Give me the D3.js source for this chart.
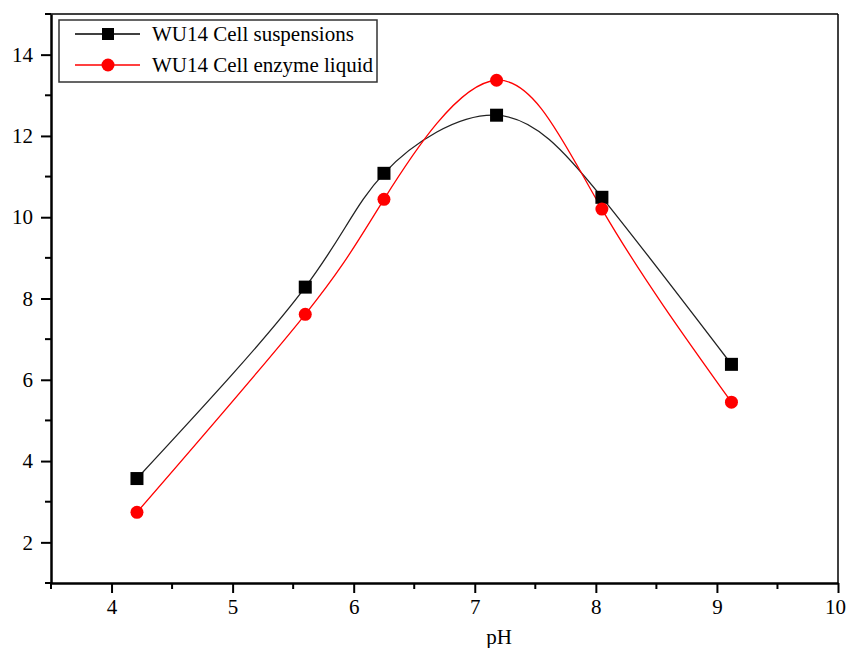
<!DOCTYPE html>
<meta charset="utf-8">
<style>
  body { margin: 0; background: #fff; }
  text { font-family: "Liberation Serif", "Times New Roman", serif; }
</style>
<script src="https://d3js.org/d3.v7.min.js"></script>
<div id="chart"></div>
<script>
// data
var phValues = [4.21, 5.60, 6.25, 7.18, 8.05, 9.12];
var cellSuspensions = [3.57, 8.28, 11.08, 12.51, 10.49, 6.38];
var enzymeLiquid = [2.74, 7.61, 10.44, 13.37, 10.20, 5.45];
var seriesNames = ["WU14 Cell suspensions", "WU14 Cell enzyme liquid"];
var xTicks = [4, 5, 6, 7, 8, 9, 10];
var yTicks = [2, 4, 6, 8, 10, 12, 14];

var W = 847, H = 648;
var margin = {top: 14, right: 9, bottom: 65, left: 51},
    width = W - margin.left - margin.right,
    height = H - margin.top - margin.bottom;

var svg = d3.select("#chart").append("svg")
    .attr("width", W).attr("height", H);
var g = svg.append("g")
    .attr("transform", "translate(" + margin.left + "," + margin.top + ")");

var x = d3.scaleLinear().domain([3.5, 10]).range([0, width]);
var y = d3.scaleLinear().domain([1, 15]).range([height, 0]);

// frame (top + right)
g.append("line").attr("x1", 0).attr("x2", width).attr("y1", 0).attr("y2", 0)
  .attr("stroke", "#000").attr("stroke-width", 1.5);
g.append("line").attr("x1", width).attr("x2", width).attr("y1", 0).attr("y2", height)
  .attr("stroke", "#000").attr("stroke-width", 1.5);

// minor ticks
var xMinor = d3.range(3.5, 10.01, 0.5).filter(function(v) { return xTicks.indexOf(v) < 0; });
var yMinor = d3.range(1, 15.01, 1).filter(function(v) { return yTicks.indexOf(v) < 0; });

var fmt = d3.format("d");
var xAxis = g.append("g").attr("transform", "translate(0," + height + ")")
  .call(d3.axisBottom(x).tickValues(xTicks).tickFormat(fmt).tickSize(10).tickSizeOuter(0).tickPadding(6));
xAxis.append("g").selectAll("line").data(xMinor).enter().append("line")
  .attr("x1", function(d) { return x(d); }).attr("x2", function(d) { return x(d); })
  .attr("y1", 0).attr("y2", 6).attr("stroke", "#000").attr("stroke-width", 2);

var yAxis = g.append("g")
  .call(d3.axisLeft(y).tickValues(yTicks).tickFormat(fmt).tickSize(10).tickSizeOuter(0).tickPadding(8));
yAxis.append("g").selectAll("line").data(yMinor).enter().append("line")
  .attr("y1", function(d) { return y(d); }).attr("y2", function(d) { return y(d); })
  .attr("x1", 0).attr("x2", -6).attr("stroke", "#000").attr("stroke-width", 2);

[xAxis, yAxis].forEach(function(a) {
  a.attr("font-family", "Liberation Serif").attr("font-size", 21);
  a.select(".domain").attr("stroke-width", 2.5);
  a.selectAll(".tick line").attr("stroke-width", 2);
  a.selectAll("text").attr("fill", "#000");
});
xAxis.selectAll(".tick text").filter(function(d) { return d === 10; }).attr("dx", "-3");

g.append("text").attr("x", x(7.2)).attr("y", height + 61)
  .attr("text-anchor", "middle").attr("font-size", 21).text("pH");

// curves
var line = d3.line()
  .x(function(d) { return x(d[0]); })
  .y(function(d) { return y(d[1]); })
  .curve(d3.curveNatural);

var black = phValues.map(function(p, i) { return [p, cellSuspensions[i]]; });
var red = phValues.map(function(p, i) { return [p, enzymeLiquid[i]]; });

g.append("path").datum(black).attr("d", line)
  .attr("fill", "none").attr("stroke", "#222").attr("stroke-width", 1.3);
g.append("path").datum(red).attr("d", line)
  .attr("fill", "none").attr("stroke", "#ff0000").attr("stroke-width", 1.3);

g.selectAll(".sq").data(black).enter().append("rect")
  .attr("x", function(d) { return x(d[0]) - 6.5; })
  .attr("y", function(d) { return y(d[1]) - 6.5; })
  .attr("width", 13).attr("height", 13).attr("fill", "#000");
g.selectAll(".dot").data(red).enter().append("circle")
  .attr("cx", function(d) { return x(d[0]); })
  .attr("cy", function(d) { return y(d[1]); })
  .attr("r", 6.5).attr("fill", "#ff0000");

// legend
var lg = svg.append("g").attr("transform", "translate(59,20)");
lg.append("rect").attr("width", 318).attr("height", 62)
  .attr("fill", "#fff").attr("stroke", "#333").attr("stroke-width", 1.5);
seriesNames.forEach(function(name, i) {
  var cy = 14 + i * 31;
  var col = i === 0 ? "#000" : "#ff0000";
  lg.append("line").attr("x1", 16).attr("x2", 81).attr("y1", cy).attr("y2", cy)
    .attr("stroke", col).attr("stroke-width", 1.3);
  if (i === 0) {
    lg.append("rect").attr("x", 49 - 6).attr("y", cy - 6).attr("width", 12).attr("height", 12).attr("fill", col);
  } else {
    lg.append("circle").attr("cx", 49).attr("cy", cy).attr("r", 6.5).attr("fill", col);
  }
  lg.append("text").attr("x", 93).attr("y", cy + 7).attr("font-size", 21).text(name);
});
</script>
